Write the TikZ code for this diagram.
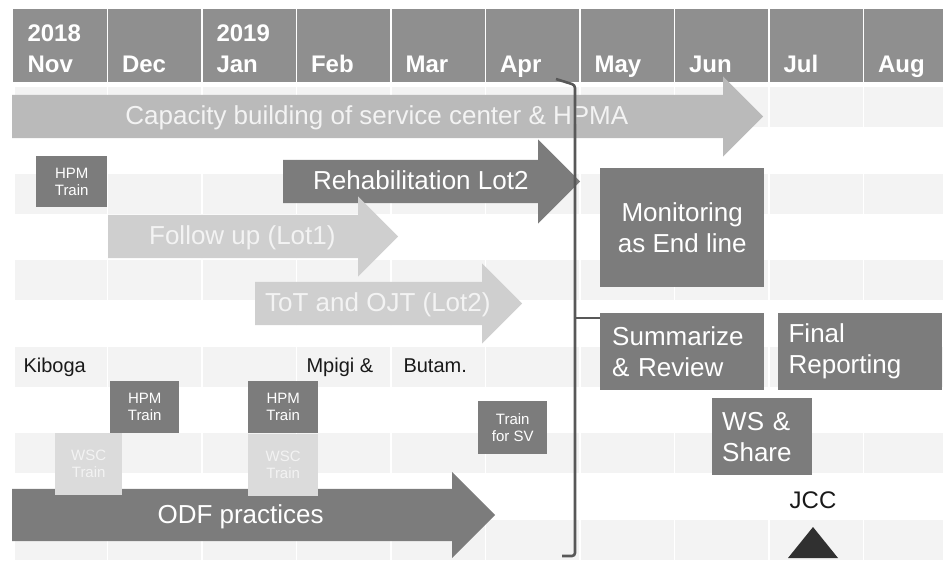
\documentclass[tikz,border=0pt]{standalone}
\usepackage{fontspec}
\setmainfont{Liberation Sans}
\usepackage{tikz}
\usetikzlibrary{shapes.arrows, positioning}
\definecolor{hdrgray}{RGB}{143,143,143}
\definecolor{boxgray}{RGB}{124,124,124}
\definecolor{capgray}{RGB}{186,186,186}
\definecolor{palegray}{RGB}{207,207,207}
\definecolor{wscgray}{RGB}{219,219,219}
\definecolor{bandgray}{RGB}{243,243,243}
\definecolor{brkgray}{RGB}{88,88,88}
\definecolor{txtpale}{RGB}{243,243,243}
\definecolor{txtdark}{RGB}{25,25,25}
\tikzset{
  month/.style={anchor=base west, text=white, font=\fontsize{24}{26}\selectfont\bfseries},
  gbar/.style={single arrow, anchor=tail, single arrow tip angle=90,
    inner xsep=4pt, inner ysep=10pt, text height=20pt, text depth=3pt,
    font=\fontsize{26}{30}\selectfont},
  darkbar/.style={gbar, fill=boxgray, text=white},
  palebar/.style={gbar, fill=palegray, text=txtpale},
  task/.style={rectangle, anchor=north west, fill=boxgray, text=white,
    inner sep=0pt, font=\fontsize{26}{31}\selectfont},
  minibox/.style={task, align=center, font=\fontsize{15}{17}\selectfont},
  site/.style={anchor=base west, text=txtdark, font=\fontsize{20}{24}\selectfont},
  bracket/.style={draw=brkgray, line width=2.6pt, rounded corners=3pt}
}
\begin{document}
\begin{tikzpicture}[x=1pt, y=-1pt]
  \useasboundingbox (0,0) rectangle (943,561);

  % row shading behind the schedule
  \foreach \k in {0,...,5}
    \fill[bandgray] (15,87+86.6*\k) rectangle (943,127+86.6*\k);
  \foreach \k in {0,...,8}
    \draw[white, line width=1.5pt] (107.5+94.5*\k,86) -- (107.5+94.5*\k,561);

  % month header
  \fill[hdrgray] (13,9) rectangle (943,82);
  \foreach \k in {0,...,8}
    \draw[white, line width=1.5pt] (107.5+94.5*\k,9) -- (107.5+94.5*\k,82);
  \foreach \m [count=\i from 0] in {Nov,Dec,Jan,Feb,Mar,Apr,May,Jun,Jul,Aug}
    \node[month] (mon\i) at (24+94.5*\i,73) {\m};
  \node[month] (yr18) at (24,42) {2018};
  \node[month] (yr19) at (213,42) {2019};

  % long running activities
  \node[gbar, fill=capgray, text=txtpale, minimum height=751, minimum width=80,
    single arrow head extend=18.5] (capa) at (12,116.5)
    {Capacity building of service center \& HPMA};
  \node[darkbar, minimum height=297, minimum width=84,
    single arrow head extend=20.5] (rehab) at (283,181.5) {Rehabilitation Lot2};
  \node[palebar, minimum height=290, minimum width=80,
    single arrow head extend=18.5] (follow) at (108,236.5) {Follow up (Lot1)};
  \node[palebar, minimum height=267, minimum width=80,
    single arrow head extend=18.5] (tot) at (255,303.5) {ToT and OJT (Lot2)};
  \node[darkbar, inner ysep=14.5pt, minimum height=483, minimum width=86,
    single arrow head extend=17] (odf) at (12,515) {ODF practices};

  % trainings
  \node[minibox, minimum width=71, minimum height=51] (hpm0) at (36,156) {HPM\\Train};
  \node[site] (kiboga) at (20,373) {Kiboga};
  \node[site] (mpigi) at (303,373) {Mpigi \&};
  \node[site] (butam) at (400,373) {Butam.};
  \node[minibox, fill=wscgray, text=txtpale, minimum width=67, minimum height=62]
    (wsc1) at (55,433) {WSC\\Train};
  \node[minibox, minimum width=69, minimum height=52] (hpm1) at (110,381) {HPM\\Train};
  \node[minibox, minimum width=70, minimum height=52] (hpm2) at (248,381) {HPM\\Train};
  \node[minibox, fill=wscgray, text=txtpale, minimum width=70, minimum height=62,
    below=0pt of hpm2] (wsc2) {WSC\\Train};
  \node[minibox, minimum width=69, minimum height=53] (trainsv) at (478,401) {Train\\for SV};

  % closing phase
  \node[task, align=center, minimum width=164, minimum height=119] (monit)
    at (600,168) {Monitoring\\as End line};
  \node[task, align=left, inner xsep=12pt, text width=140, minimum height=77]
    (summ) at (600,313) {Summarize\\\& Review};
  \node[task, align=left, inner xsep=11pt, text width=142, minimum height=77,
    right=13pt of summ] (final) {Final\\Reporting};
  \node[task, align=left, inner xsep=10pt, text width=80, minimum height=77]
    (wss) at (712,398) {WS \&\\Share};
  \node[text=txtdark, font=\fontsize{24}{28}\selectfont] (jcc) at (813,500) {JCC};
  \fill[txtdark!90!white] (813,527) -- (838,558) -- (788,558) -- cycle;

  % end line of the field phase
  \coordinate (brtop) at (556,79);
  \coordinate (brmid) at (575,318);
  \coordinate (brbot) at (575,556);
  \draw[bracket] (brtop) -- (575,85) -- (brbot) -- (562,556);
  \draw[bracket, rounded corners=0pt] (brmid) -- (brmid -| summ.west);
\end{tikzpicture}
\end{document}
